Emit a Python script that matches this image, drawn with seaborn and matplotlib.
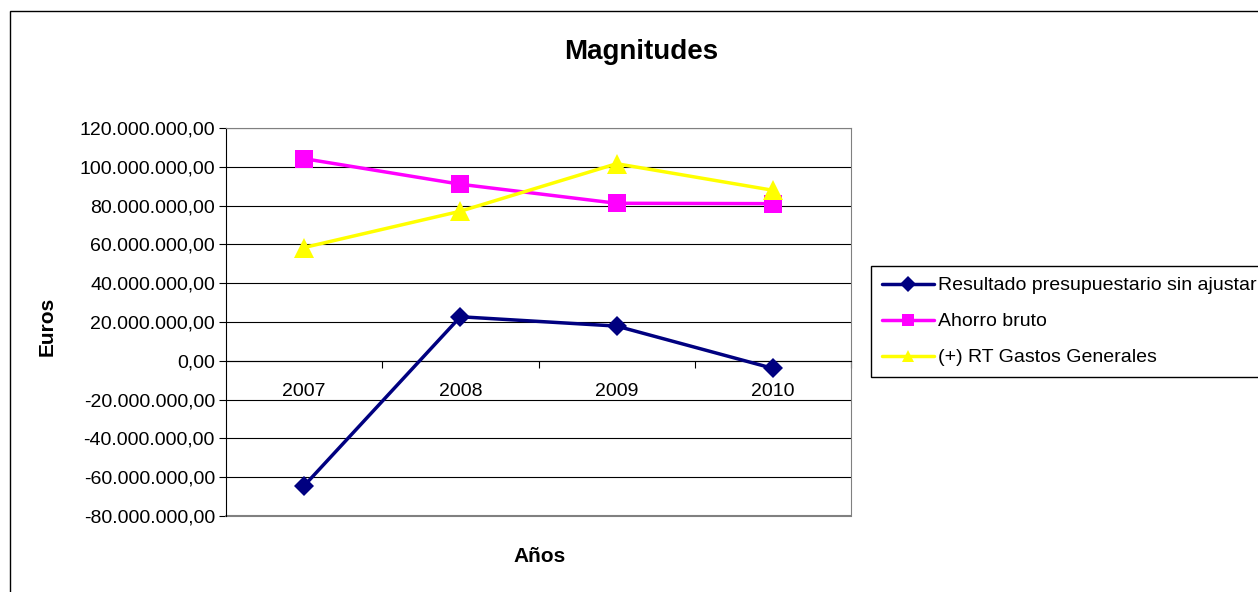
import numpy as np
import pandas as pd
import matplotlib
matplotlib.use('Agg')
import matplotlib.pyplot as plt
import matplotlib.ticker as mticker
from matplotlib.lines import Line2D
from matplotlib.patches import Rectangle
import seaborn as sns

years = ['2007', '2008', '2009', '2010']
resultado = [-64.4e6, 22.7e6, 17.9e6, -3.9e6]
ahorro = [104.2e6, 91.0e6, 81.2e6, 81.0e6]
gastos = [58.4e6, 77.1e6, 101.6e6, 87.9e6]
series_names = ['Resultado presupuestario sin ajustar', 'Ahorro bruto', '(+) RT Gastos Generales']
colors = ['#000080', '#FF00FF', '#FFFF00']
markers = ['D', 's', '^']
msizes = [10.5, 13, 14.5]

df = pd.DataFrame({
    'Año': years * 3,
    'Euros': resultado + ahorro + gastos,
    'serie': np.repeat(series_names, len(years)),
})

sns.set_style('white')
plt.rcParams['font.family'] = ['Liberation Sans', 'DejaVu Sans']
plt.rcParams['text.color'] = 'black'
plt.rcParams['xtick.color'] = 'black'
plt.rcParams['ytick.color'] = 'black'

fig = plt.figure(figsize=(12.58, 5.92), dpi=100)
ax = fig.add_axes([226 / 1258, 1 - 516 / 592, 625 / 1258, 388 / 592])

# una llamada por serie para poder dar a cada marcador su tamaño
for name, c, m, ms in zip(series_names, colors, markers, msizes):
    sns.lineplot(data=df[df['serie'] == name], x='Año', y='Euros',
                 color=c, marker=m, markersize=ms, markeredgewidth=0,
                 linewidth=2.5, sort=False, ax=ax, zorder=3)

# eje y
ax.set_ylim(-80e6, 120e6)
ax.yaxis.set_major_locator(mticker.MultipleLocator(20e6))
fmt = lambda v, p: '{:,.2f}'.format(v).replace(',', 'X').replace('.', ',').replace('X', '.')
ax.yaxis.set_major_formatter(mticker.FuncFormatter(fmt))
ax.yaxis.grid(True, color='black', linewidth=0.8)
ax.set_axisbelow(True)
ax.tick_params(axis='y', left=True, length=5, width=0.8, labelsize=14, pad=3)

# eje x cruzando en 0
ax.set_xlim(-0.5, 3.5)
ax.spines['bottom'].set_position(('data', 0))
ax.spines['bottom'].set_color('black')
ax.spines['left'].set_color('black')
for s in ['top', 'right']:
    ax.spines[s].set_color('#808080')
ax.axhline(-80e6, color='#808080', linewidth=1.5, clip_on=False, zorder=1)
ax.set_xticks(range(len(years)))
ax.set_xticklabels(years)
ax.set_xticks([0.5, 1.5, 2.5, 3.5], minor=True)
ax.tick_params(axis='x', which='major', length=0, labelsize=14, pad=16)
ax.tick_params(axis='x', which='minor', bottom=True, length=5, width=0.8, direction='out')
ax.set_xlabel('')
ax.set_ylabel('')

fig.text(641 / 1258, 1 - 52 / 592, 'Magnitudes', ha='center', va='center', fontsize=20, fontweight='bold')
fig.text(47 / 1258, 1 - 326 / 592, 'Euros', ha='center', va='center', rotation=90, fontsize=15, fontweight='bold')
fig.text(540 / 1258, 1 - 556 / 592, 'Años', ha='center', va='center', fontsize=15, fontweight='bold')

handles = [Line2D([], [], color=c, marker=m, linewidth=2.5, markersize=8, markeredgewidth=0)
           for c, m in zip(colors, markers)]
leg = fig.legend(handles, series_names, loc='upper left',
                 bbox_to_anchor=(871 / 1258, 1 - 266 / 592), fontsize=14,
                 frameon=True, fancybox=False, edgecolor='black', framealpha=1,
                 handlelength=2.7, handletextpad=0.2, labelspacing=0.95, borderpad=0.55,
                 borderaxespad=0)
leg.get_frame().set_linewidth(1)

fig.patches.append(Rectangle((10 / 1258, -0.1), 1.5, 1 - 11 / 592 + 0.1,
                             transform=fig.transFigure, fill=False, edgecolor='black', linewidth=1))

fig.savefig('out.png', dpi=100)
